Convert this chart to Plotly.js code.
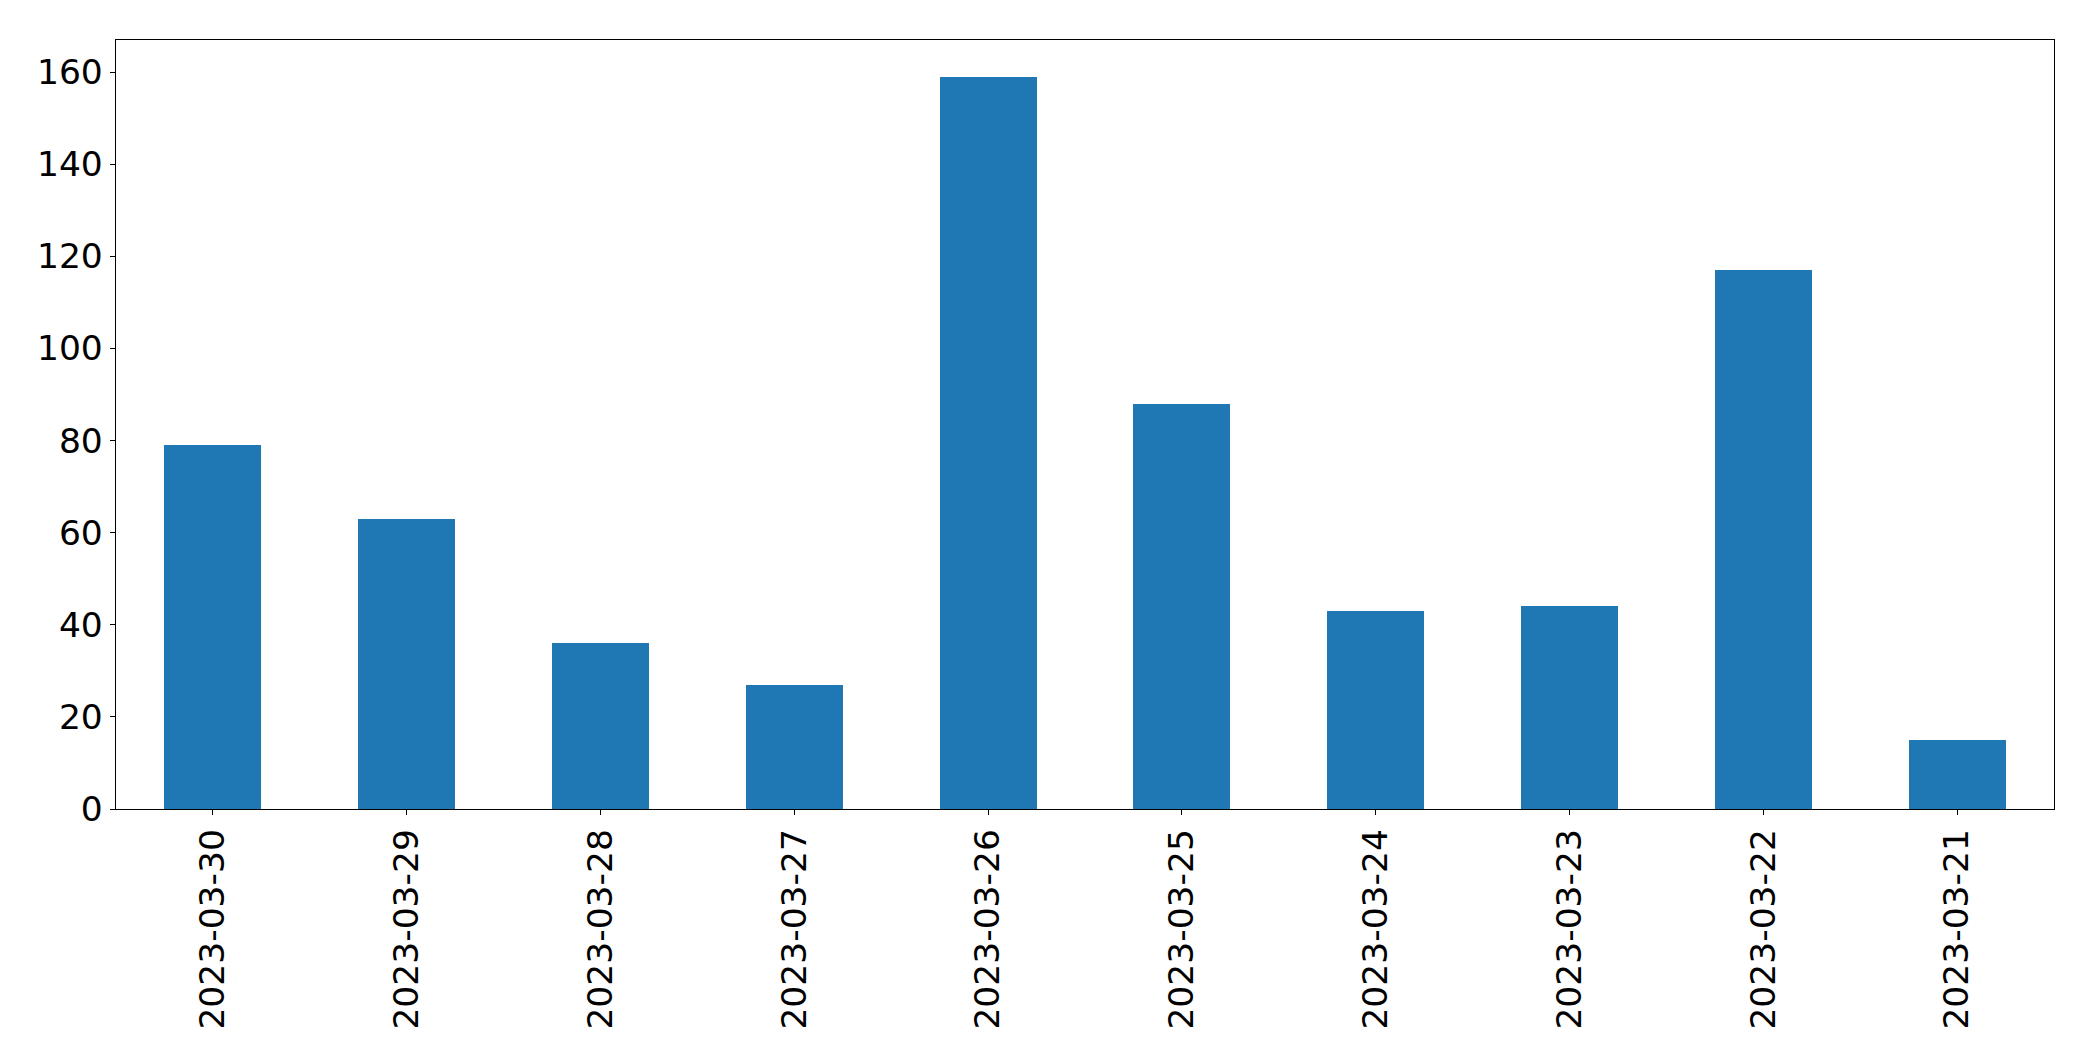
<!DOCTYPE html>
<html>
<head>
<meta charset="utf-8">
<script src="https://cdn.plot.ly/plotly-3.0.1.min.js"></script>
<style>html,body{margin:0;padding:0;background:#fff;}#chart{width:2093px;height:1061px;}</style>
</head>
<body>
<div id="chart"></div>
<script>
const dates = ["2023-03-30","2023-03-29","2023-03-28","2023-03-27","2023-03-26","2023-03-25","2023-03-24","2023-03-23","2023-03-22","2023-03-21"];
const counts = [79, 63, 36, 27, 159, 88, 43, 44, 117, 15];
const yTicks = [0, 20, 40, 60, 80, 100, 120, 140, 160];

const trace = {
  type: 'bar',
  x: dates,
  y: counts,
  width: 0.5,
  marker: {color: '#1f77b4', line: {width: 0}},
  hoverinfo: 'x+y'
};

const font = {family: 'DejaVu Sans', size: 34.5, color: '#000'};

const layout = {
  width: 2093,
  height: 1061,
  margin: {l: 116, r: 39, t: 40, b: 252},
  paper_bgcolor: '#fff',
  plot_bgcolor: '#fff',
  showlegend: false,
  bargap: 0,
  font: font,
  xaxis: {
    type: 'category',
    range: [-0.5, 9.5],
    tickangle: -90,
    ticks: 'outside',
    ticklen: 5,
    tickwidth: 1,
    tickcolor: '#000',
    showline: true,
    linecolor: '#000',
    linewidth: 1.3,
    mirror: true,
    showgrid: false,
    zeroline: false,
    tickfont: font,
    automargin: false
  },
  yaxis: {
    range: [0, 166.95],
    tickvals: yTicks,
    ticktext: yTicks.map(String),
    ticks: 'outside',
    ticklen: 5,
    tickwidth: 1,
    tickcolor: '#000',
    showline: true,
    linecolor: '#000',
    linewidth: 1.3,
    mirror: true,
    showgrid: false,
    zeroline: false,
    tickfont: font,
    automargin: false
  }
};

Plotly.newPlot('chart', [trace], layout, {displayModeBar: false, staticPlot: true});
</script>
</body>
</html>
